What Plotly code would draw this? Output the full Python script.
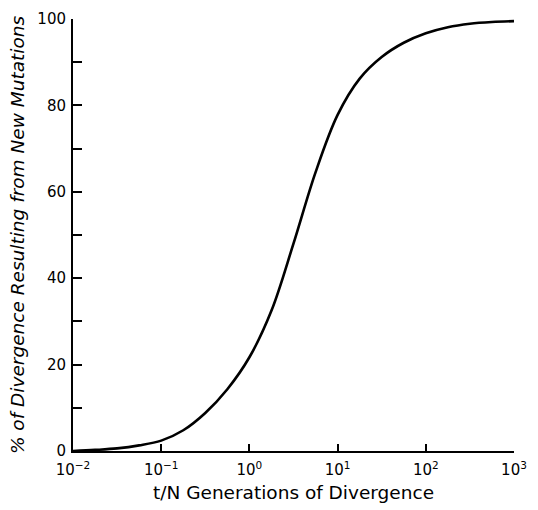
import plotly.graph_objects as go

# t/N generations of divergence (x, quarter-decade steps) and % of divergence from new mutations (y)
t_over_n = [0.01, 0.0178, 0.0316, 0.0562, 0.1, 0.178, 0.316, 0.562, 1.0, 1.78, 3.16,
            5.62, 10, 17.8, 31.6, 56.2, 100, 178, 316, 562, 1000]
pct_new = [0.0, 0.25, 0.6, 1.3, 2.4, 4.8, 8.8, 14.3, 21.7, 32.5, 48.0,
           64.5, 77.8, 86.2, 91.2, 94.5, 96.7, 98.1, 98.9, 99.3, 99.5]

x_tickvals = [0.01, 0.1, 1, 10, 100, 1000]
x_ticktext = ["10<sup>\u22122</sup>", "10<sup>\u22121</sup>", "10<sup>0</sup>",
              "10<sup>1</sup>", "10<sup>2</sup>", "10<sup>3</sup>"]
y_tickvals = [0, 20, 40, 60, 80, 100]

fig = go.Figure()
fig.add_trace(go.Scatter(
    x=t_over_n, y=pct_new, mode="lines",
    line=dict(color="black", width=2.6, shape="spline", smoothing=1.0),
    cliponaxis=False, showlegend=False,
))

font_family = "DejaVu Sans, Liberation Sans, sans-serif"
fig.update_layout(
    width=538, height=510,
    margin=dict(l=73, r=24, t=10, b=59),
    paper_bgcolor="white", plot_bgcolor="white",
    font=dict(family=font_family, color="black", size=15),
    xaxis=dict(
        type="log", range=[-2, 3],
        tickvals=x_tickvals, ticktext=x_ticktext,
        ticks="inside", ticklen=7, tickwidth=1.5, tickcolor="black",
        showline=True, linecolor="black", linewidth=2,
        showgrid=False, zeroline=False,
        tickfont=dict(size=15), ticklabelstandoff=4,
        title=dict(text="t/N Generations of Divergence", font=dict(size=18.5), standoff=8),
    ),
    yaxis=dict(
        range=[0, 100], tickvals=y_tickvals,
        ticks="inside", ticklen=9, tickwidth=1.5, tickcolor="black",
        minor=dict(dtick=10, ticks="inside", ticklen=9, tickwidth=1.5, tickcolor="black"),
        showline=True, linecolor="black", linewidth=2,
        showgrid=False, zeroline=False,
        tickfont=dict(size=15), ticklabelstandoff=2,
        title=dict(text="<i>% of Divergence Resulting from New Mutations</i>",
                   font=dict(size=18.5), standoff=8),
    ),
)

fig.write_html("out.html")
